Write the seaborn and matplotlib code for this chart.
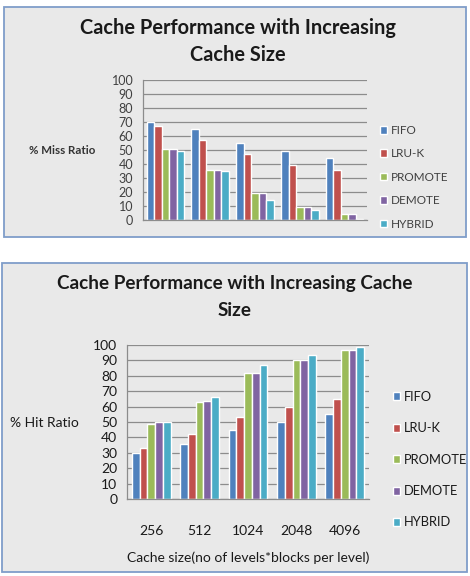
import pandas as pd
import matplotlib.pyplot as plt
import seaborn as sns
from matplotlib.patches import Rectangle

sizes = ["256", "512", "1024", "2048", "4096"]
policies = ["FIFO", "LRU-K", "PROMOTE", "DEMOTE", "HYBRID"]
colors = ["#4F81BD", "#C0504D", "#9BBB59", "#8064A2", "#4BACC6"]

miss_fifo = [70, 65, 55, 49, 44]
miss_lruk = [67, 57, 47, 39, 36]
miss_promote = [51, 36, 19, 9, 4]
miss_demote = [51, 36, 19, 9, 4]
miss_hybrid = [49, 35, 14, 7, 1]

hit_fifo = [30, 35.5, 45, 50, 55.5]
hit_lruk = [33, 42.5, 53.5, 60, 65]
hit_promote = [49, 63, 82, 90.5, 96.5]
hit_demote = [50, 63.5, 82, 90.5, 96.5]
hit_hybrid = [50, 66, 87, 93.5, 98.5]


def long_df(series):
    rows = []
    for pol, vals in zip(policies, series):
        for s, v in zip(sizes, vals):
            rows.append({"size": s, "policy": pol, "value": v})
    return pd.DataFrame(rows)


miss_df = long_df([miss_fifo, miss_lruk, miss_promote, miss_demote, miss_hybrid])
hit_df = long_df([hit_fifo, hit_lruk, hit_promote, hit_demote, hit_hybrid])

sns.set_style("white")
plt.rcParams["font.family"] = ["Lato", "DejaVu Sans"]

W, H = 470, 576
fig = plt.figure(figsize=(W / 100, H / 100), dpi=100)
fig.patch.set_facecolor("white")


def px_rect(x0, y0, x1, y1):
    return [x0 / W, 1 - y1 / H, (x1 - x0) / W, (y1 - y0) / H]


bg = "#E9E9E9"
for (x0, y0, x1, y1) in [(4, 7, 466, 237), (2, 263, 467, 572)]:
    l, b, w, h = px_rect(x0, y0, x1, y1)
    fig.patches.append(Rectangle((l, b), w, h, transform=fig.transFigure,
                                 facecolor=bg, edgecolor="#7F9DC9",
                                 linewidth=1.3, zorder=-10))


def style_axes(ax, labels):
    ax.set_facecolor(bg)
    ax.set_ylim(0, 100)
    ax.set_yticks(range(0, 101, 10))
    ax.grid(axis="y", color="#8C8C8C", linewidth=0.9)
    ax.set_axisbelow(True)
    for side in ["top", "right"]:
        ax.spines[side].set_visible(False)
    for side in ["left", "bottom"]:
        ax.spines[side].set_color("#8C8C8C")
        ax.spines[side].set_linewidth(0.9)
    ax.set_xlim(-0.5, 4.5)
    ax.set_xticks(range(5))
    ax.set_xticklabels(labels)
    ax.set_xticks([i - 0.5 for i in range(6)], minor=True)
    ax.tick_params(axis="x", which="major", length=0)
    ax.tick_params(axis="x", which="minor", length=5, color="#8C8C8C", width=0.9)
    ax.tick_params(axis="y", length=4, color="#8C8C8C", width=0.9, pad=3)
    ax.set_xlabel("")
    ax.set_ylabel("")


# top chart
ax1 = fig.add_axes(px_rect(143, 80, 367, 220))
sns.barplot(data=miss_df, x="size", y="value", hue="policy", palette=colors,
            width=0.84, gap=0, saturation=1, ax=ax1)
style_axes(ax1, ["", "", "", "", ""])
ax1.tick_params(axis="y", labelsize=9, labelcolor="#404040")
h1, l1 = ax1.get_legend_handles_labels()
ax1.legend(h1, l1, loc="upper left", bbox_to_anchor=(380 / W, 1 - 125 / H),
           bbox_transform=fig.transFigure, frameon=False, fontsize=8.5,
           handlelength=0.6, handleheight=0.6, handletextpad=0.3,
           labelspacing=1.05, borderpad=0, borderaxespad=0,
           labelcolor="#404040")
fig.text(238 / W, 1 - 41.5 / H, "Cache Performance with Increasing\nCache Size",
         ha="center", va="center", fontsize=14.4, fontweight="bold",
         linespacing=1.45, color="#1A1A1A")
fig.text(62 / W, 1 - 151 / H, "% Miss Ratio", ha="center", va="center",
         fontsize=8.3, fontweight="bold", color="#333333")

# bottom chart
ax2 = fig.add_axes(px_rect(127, 345, 369, 499))
sns.barplot(data=hit_df, x="size", y="value", hue="policy", palette=colors,
            width=0.8, gap=0, saturation=1, ax=ax2)
style_axes(ax2, sizes)
ax2.tick_params(axis="y", labelsize=10, labelcolor="#1A1A1A")
ax2.tick_params(axis="x", which="major", labelsize=10, pad=19, labelcolor="#1A1A1A")
h2, l2 = ax2.get_legend_handles_labels()
ax2.legend(h2, l2, loc="upper left", bbox_to_anchor=(393 / W, 1 - 391 / H),
           bbox_transform=fig.transFigure, frameon=False, fontsize=9.3,
           handlelength=0.58, handleheight=0.58, handletextpad=0.25,
           labelspacing=1.5, borderpad=0, borderaxespad=0,
           labelcolor="#1A1A1A")
fig.text(235 / W, 1 - 297 / H, "Cache Performance with Increasing Cache\nSize",
         ha="center", va="center", fontsize=13.6, fontweight="bold",
         linespacing=1.75, color="#1A1A1A")
fig.text(44 / W, 1 - 423 / H, "% Hit Ratio", ha="center", va="center",
         fontsize=10, color="#1A1A1A")
fig.text(248 / W, 1 - 558 / H, "Cache size(no of levels*blocks per level)",
         ha="center", va="center", fontsize=10, color="#1A1A1A")

fig.savefig("out.png", dpi=100, facecolor="white")
